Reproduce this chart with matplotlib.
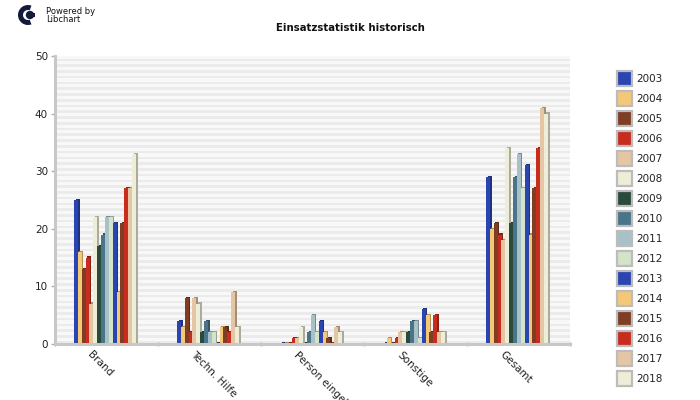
import matplotlib
matplotlib.use("Agg")
import matplotlib.pyplot as plt
import matplotlib.patches as patches
import matplotlib.transforms as transforms
import numpy as np

W, H = 700, 400

categories = ["Brand", "Techn. Hilfe", "Person eingeklemmt", "Sonstige", "Gesamt"]
years = ["2003", "2004", "2005", "2006", "2007", "2008", "2009", "2010",
         "2011", "2012", "2013", "2014", "2015", "2016", "2017", "2018"]

brand = [25, 16, 13, 15, 7, 22, 17, 19, 22, 22, 21, 9, 21, 27, 27, 33]
techn = [4, 3, 8, 2, 8, 7, 2, 4, 2, 2, 0, 3, 3, 2, 9, 3]
person = [0, 0, 0, 1, 1, 3, 0, 2, 5, 2, 4, 2, 1, 0, 3, 2]
sonstige = [0, 1, 0, 1, 2, 2, 2, 4, 4, 1, 6, 5, 2, 5, 2, 2]
gesamt = [29, 20, 21, 19, 18, 34, 21, 29, 33, 27, 31, 19, 27, 34, 41, 40]

colors = ["#2a45b0", "#f5c878", "#7f3d24", "#c72c1c", "#e4c6a4", "#eeeed8",
          "#2a4a3c", "#4a7488", "#a8c0c8", "#d4e4c8"]
colors = colors + colors[:6]
yticks = [0, 10, 20, 30, 40, 50]


def darken(c, f=0.72):
    rgb = np.array(matplotlib.colors.to_rgb(c))
    return tuple(rgb * f)


fig = plt.figure(figsize=(7, 4), dpi=100, facecolor="white")
ax = fig.add_axes([55 / W, 1 - 344 / H, 515 / W, 288 / H])
ax.set_xlim(0, len(categories))
ax.set_ylim(0, 50)
ax.set_facecolor("#f8f8f8")

# background stripes
for y in np.arange(0, 50, 1.0):
    ax.axhspan(y + 0.1, y + 0.55, color="#ebebeb", lw=0, zorder=0)

# bars, with a darker side shifted to the right for the 3d look
step = 3.87 / 103
start = 21 / 103
bar_w = 4 / 103
side = transforms.offset_copy(ax.transData, fig=fig, x=1.5, y=1.2, units="dots")
rows = [brand, techn, person, sonstige, gesamt]
for g, row in enumerate(rows):
    for i, v in enumerate(row):
        x = g + start + i * step
        h = max(v, 0.12)
        ax.bar(x, h, bar_w, color=darken(colors[i]), lw=0, zorder=2 + i * 0.1,
               transform=side)
        ax.bar(x, h, bar_w, color=colors[i], lw=0, zorder=2 + i * 0.1 + 0.05)

for s in ["top", "right"]:
    ax.spines[s].set_visible(False)
for s in ["left", "bottom"]:
    ax.spines[s].set_color("#c8c8c8")
    ax.spines[s].set_linewidth(2.2)
    ax.spines[s].set_zorder(10)

ax.set_yticks(yticks)
ax.set_xticks(range(len(categories) + 1))
ax.set_xticklabels([])
ax.tick_params(axis="y", length=3, width=1, color="#b0b0b0", labelsize=7.5, pad=2, labelcolor="#222222")
ax.tick_params(axis="x", length=3, width=1, color="#b0b0b0", direction="inout")

for g, c in enumerate(categories):
    ax.annotate(c, xy=(g + 0.5, 0), xycoords=ax.get_xaxis_transform(),
                xytext=(-17, -9), textcoords="offset pixels",
                rotation=-45, rotation_mode="anchor", ha="left", va="center",
                fontsize=7.5, color="#222222", annotation_clip=False)

fig.text(350 / W, 1 - 28 / H, "Einsatzstatistik historisch", ha="center", va="center",
         fontsize=7.3, fontweight="bold", color="#111111")

# legend
bg = fig.add_axes([0, 0, 1, 1], zorder=2)
bg.set_xlim(0, W)
bg.set_ylim(H, 0)
bg.axis("off")
bg.patch.set_alpha(0)
for i, y_lab in enumerate(years):
    yc = 79 + i * 20
    bg.add_patch(patches.Rectangle((617, yc - 8), 15, 15, fc=colors[i], ec="#bcbcbc", lw=1.6))
    bg.text(636, yc, y_lab, fontsize=7.5, va="center", ha="left", color="#222222")

# logo
bg.add_patch(patches.Wedge((28, 15), 10, 70, 290, width=5, fc="#141a3c", lw=0))
bg.add_patch(patches.Circle((30, 15), 4.2, fc="#141a3c", lw=0))
bg.add_patch(patches.Rectangle((30, 13), 5, 4, fc="#141a3c", lw=0))
bg.text(46, 11, "Powered by", fontsize=6, va="center", ha="left", color="#111111")
bg.text(46, 20, "Libchart", fontsize=6, va="center", ha="left", color="#111111")

fig.savefig("out.png", dpi=100)
